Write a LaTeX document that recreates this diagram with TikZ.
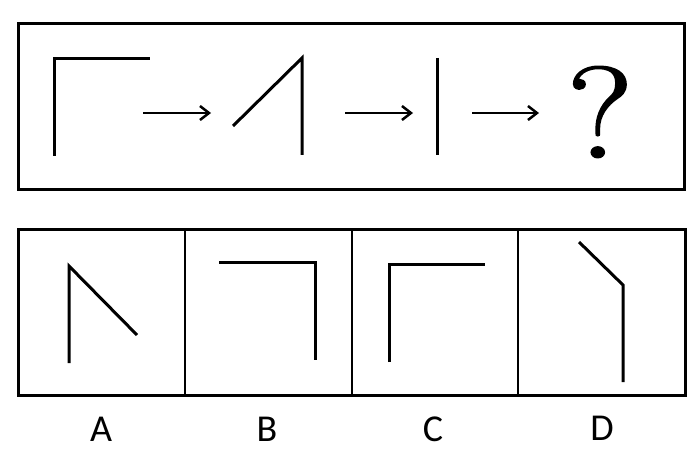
\documentclass[tikz,border=0pt]{standalone}
\usepackage{fontspec}
\newfontfamily\qfont[FakeBold=1.3]{Latin Modern Roman}
\newfontfamily\labelfont{Carlito}
\usetikzlibrary{arrows.meta}
\tikzset{
  frame/.style={line width=3pt},
  divider/.style={line width=2.5pt},
  fig/.style={line width=3pt, line cap=butt, line join=miter},
  seqarrow/.style={line width=2.5pt, -{Straight Barb[length=9pt,width=14pt,line width=2.5pt]}},
  optlabel/.style={font=\labelfont\fontsize{38}{38}\selectfont, inner sep=0pt},
}
\begin{document}
\begin{tikzpicture}[x=1pt,y=-1pt]
\useasboundingbox (0,0) rectangle (700,470);
\fill[white] (0,0) rectangle (700,470);
% top frame
\draw[frame] (18,24) rectangle (684,190);
% figure 1
\draw[fig] (54,156) -- (54,59) -- (150,59);
% figure 2
\draw[fig] (233,126) -- (302,58) -- (302,155);
% figure 3
\draw[fig] (437,58) -- (437,155);
% arrows
\coordinate (a1s) at (143,113); \coordinate (a1e) at (211,113);
\coordinate (a2s) at (345,113); \coordinate (a2e) at (413,113);
\coordinate (a3s) at (472,113); \coordinate (a3e) at (539,113);
\draw[seqarrow] (a1s) -- (a1e);
\draw[seqarrow] (a2s) -- (a2e);
\draw[seqarrow] (a3s) -- (a3e);
% question mark
\node[inner sep=0pt, font=\qfont\fontsize{130}{130}\selectfont, xscale=1.18] (q) at (600,112) {?};
% bottom frame
\draw[frame] (18,229) rectangle (685,395);
\draw[divider] (185,229) -- (185,395);
\draw[divider] (352,229) -- (352,395);
\draw[divider] (518,229) -- (518,395);
% option A
\draw[fig] (69,363) -- (69,266) -- (137,335);
% option B
\draw[fig] (219,262) -- (315,262) -- (315,360);
% option C
\draw[fig] (389,362) -- (389,264) -- (485,264);
% option D
\draw[fig] (579,242) -- (623,285) -- (623,382);
% labels
\node[optlabel] (la) at (101,429) {A};
\node[optlabel] (lb) at (267,429) {B};
\node[optlabel] (lc) at (433,429) {C};
\node[optlabel] (ld) at (602,428) {D};
\end{tikzpicture}
\end{document}
